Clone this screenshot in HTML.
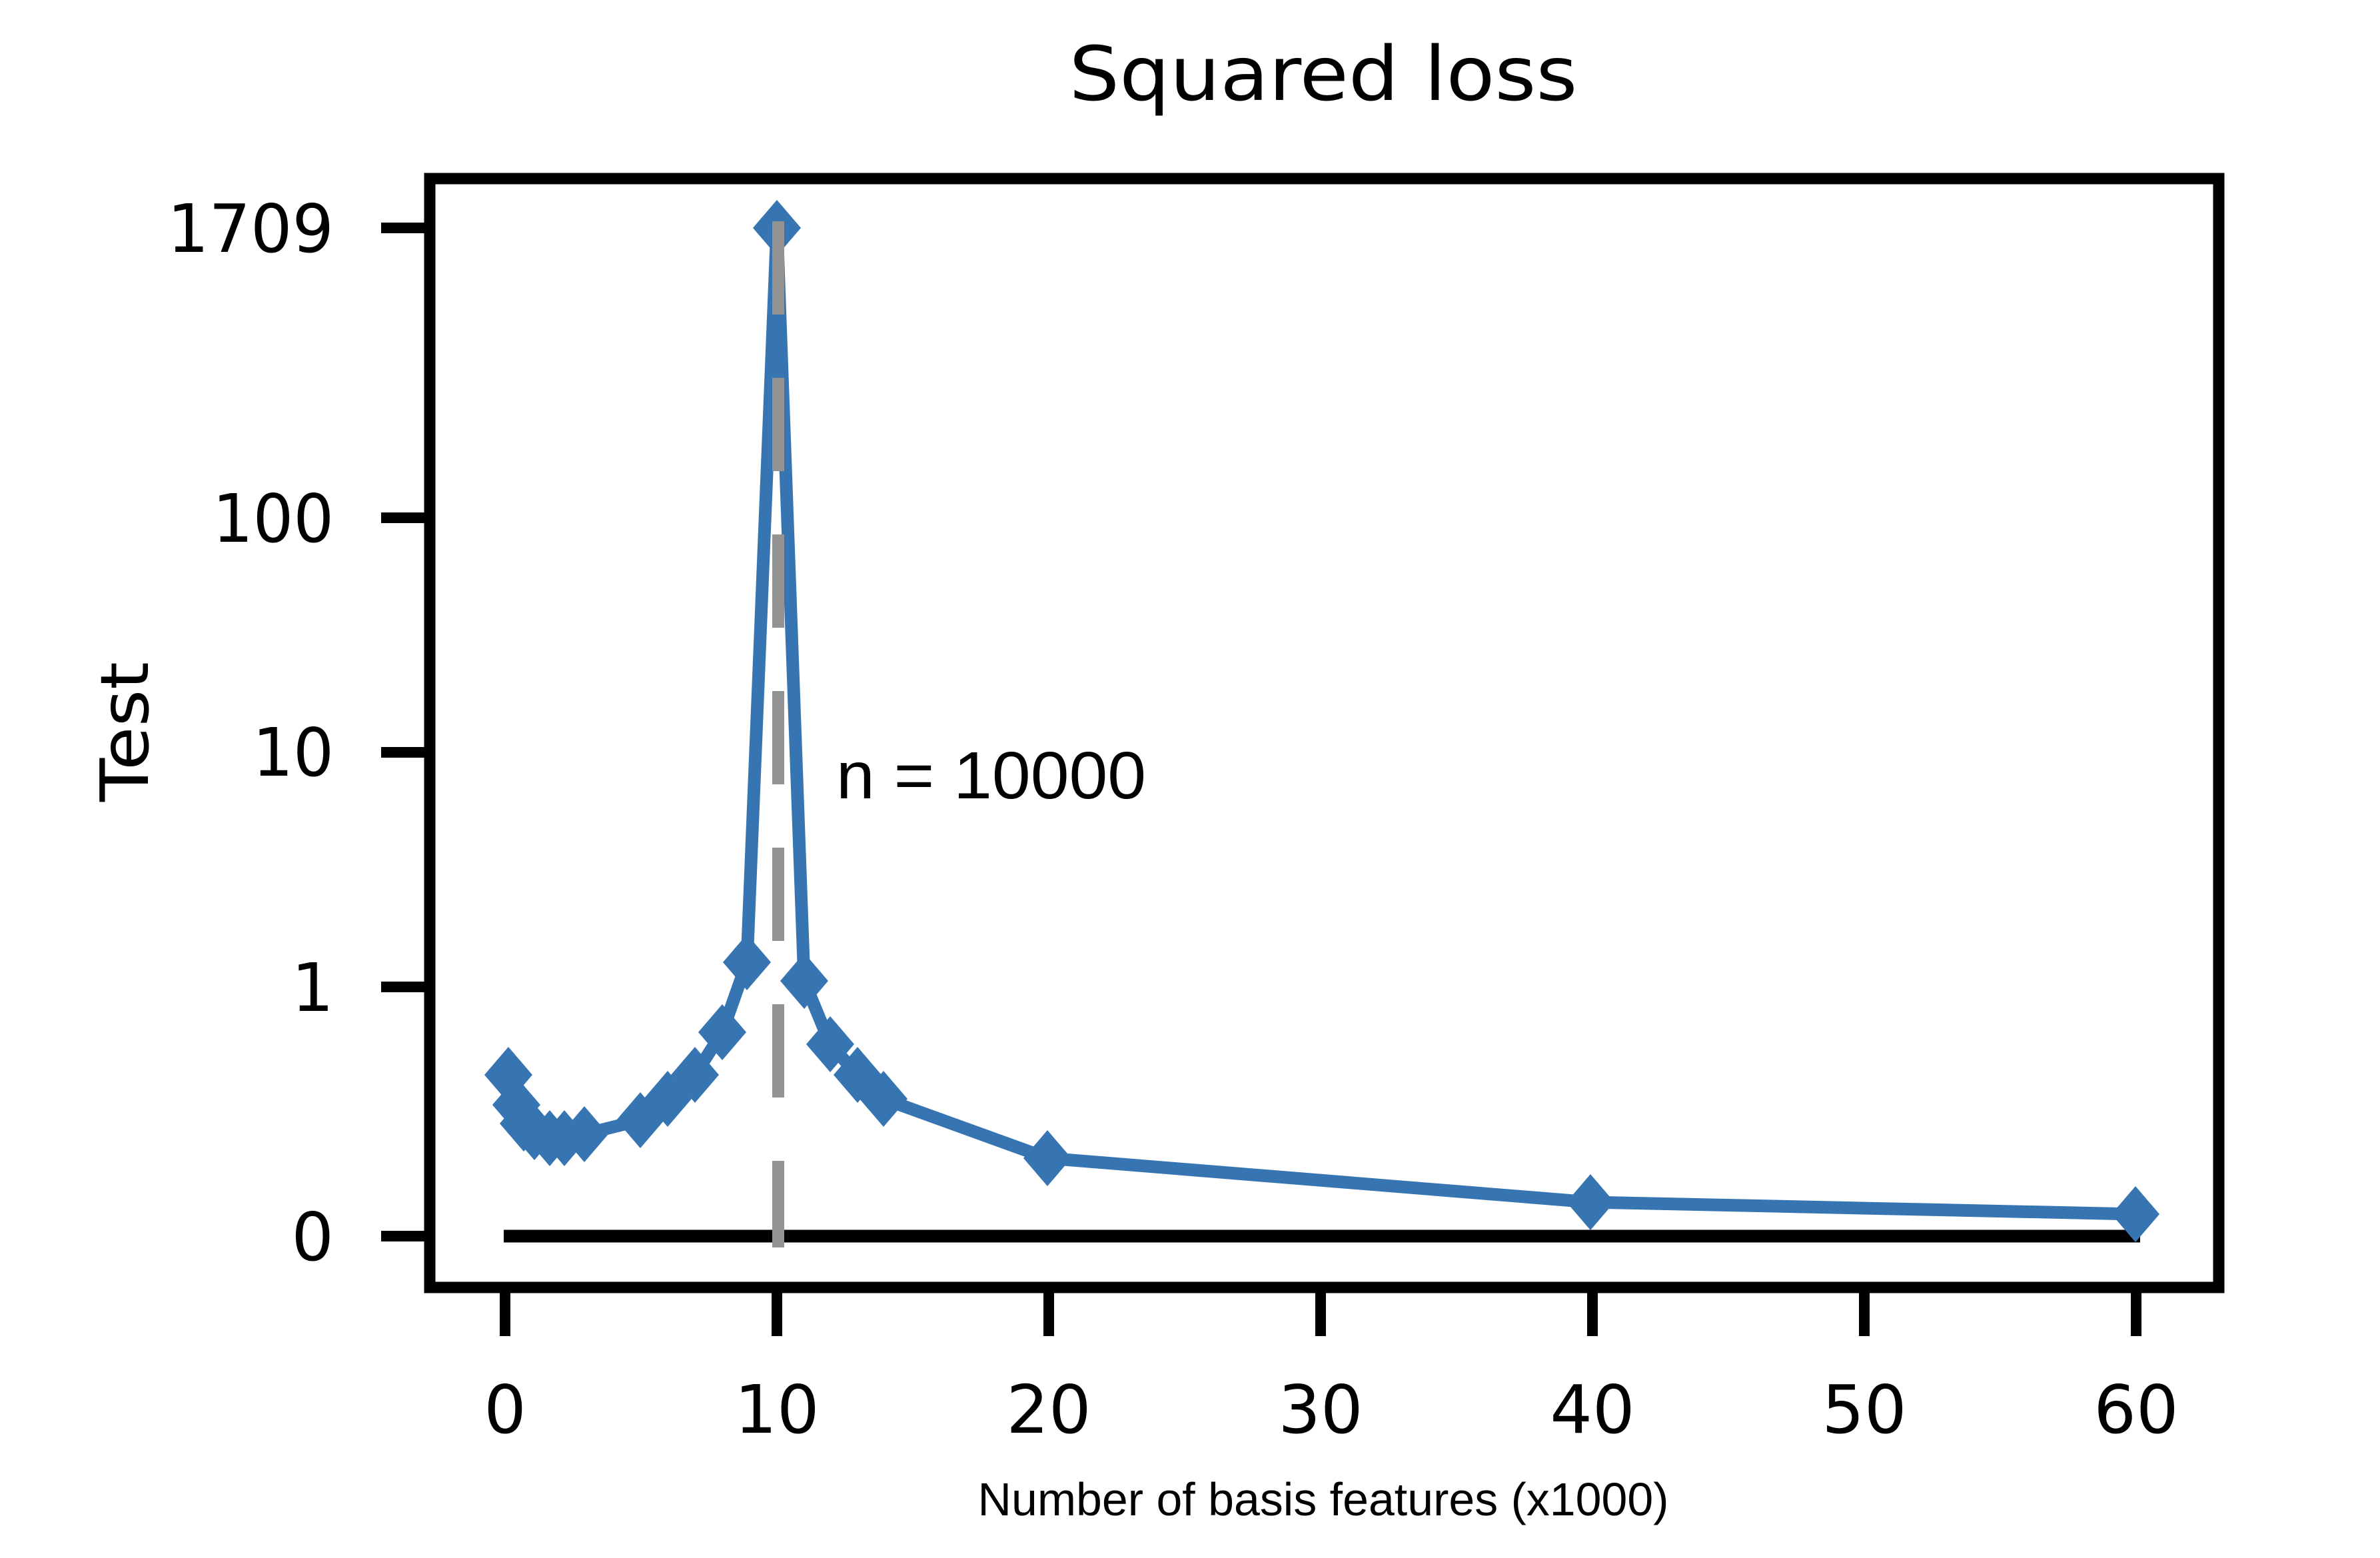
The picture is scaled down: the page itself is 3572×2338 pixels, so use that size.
<!DOCTYPE html>
<html><head><style>body{margin:0;background:#fff}svg{display:block}</style></head>
<body>
<svg width="3572" height="2338" viewBox="0 0 3572 2338" xmlns="http://www.w3.org/2000/svg">
<rect width="3572" height="2338" fill="#fff"/>
<g font-family="DejaVu Sans, sans-serif" fill="#000">
<text x="1986" y="150" font-size="112" text-anchor="middle" textLength="763" lengthAdjust="spacingAndGlyphs">Squared loss</text>
<g font-size="100" text-anchor="end">
<text x="501" y="378" textLength="250" lengthAdjust="spacingAndGlyphs">1709</text>
<text x="501" y="813" textLength="182" lengthAdjust="spacingAndGlyphs">100</text>
<text x="501" y="1164" textLength="122" lengthAdjust="spacingAndGlyphs">10</text>
<text x="501" y="1517">1</text>
<text x="501" y="1891">0</text>
</g>
<g font-size="100" text-anchor="middle">
<text x="758" y="2150">0</text>
<text x="1166" y="2150">10</text>
<text x="1574" y="2150">20</text>
<text x="1982" y="2150">30</text>
<text x="2390" y="2150">40</text>
<text x="2798" y="2150">50</text>
<text x="3206" y="2150">60</text>
</g>
<text transform="translate(222,1098) rotate(-90)" font-size="100" text-anchor="middle" textLength="210" lengthAdjust="spacingAndGlyphs">Test</text>
</g>
<text x="1255" y="1198" font-family="Liberation Sans, sans-serif" font-size="100" textLength="465" lengthAdjust="spacingAndGlyphs">n = 10000</text>
<text x="1986" y="2274" font-family="Liberation Sans, sans-serif" font-size="70" text-anchor="middle" textLength="1037" lengthAdjust="spacingAndGlyphs">Number of basis features (x1000)</text>

<rect x="645" y="268" width="2685" height="1664" fill="none" stroke="#000" stroke-width="17"/>
<g stroke="#000" stroke-width="16">
<line x1="572" y1="342" x2="645" y2="342"/>
<line x1="572" y1="777" x2="645" y2="777"/>
<line x1="572" y1="1129" x2="645" y2="1129"/>
<line x1="572" y1="1481" x2="645" y2="1481"/>
<line x1="572" y1="1855" x2="645" y2="1855"/>
<line x1="758" y1="1932" x2="758" y2="2005"/>
<line x1="1166" y1="1932" x2="1166" y2="2005"/>
<line x1="1574" y1="1932" x2="1574" y2="2005"/>
<line x1="1982" y1="1932" x2="1982" y2="2005"/>
<line x1="2390" y1="1932" x2="2390" y2="2005"/>
<line x1="2798" y1="1932" x2="2798" y2="2005"/>
<line x1="3206" y1="1932" x2="3206" y2="2005"/>
<line x1="756" y1="1855" x2="3212" y2="1855" stroke-width="19"/>
</g>

<g fill="#3775b2" stroke="#3775b2">
<polyline fill="none" stroke-width="19" stroke-linejoin="round" points="763,1613 775,1658 786,1686 802,1699 825,1708 847,1708 877,1702 961,1681 1002,1649 1043,1613 1084,1549 1121,1444 1166,342 1207,1472 1246,1567 1287,1613 1326,1649 1572,1738 2387,1804 3205,1822"/>
<g stroke="none">
<path d="M0,-42 L36,0 L0,42 L-36,0Z" transform="translate(763,1613)"/>
<path d="M0,-42 L36,0 L0,42 L-36,0Z" transform="translate(775,1658)"/>
<path d="M0,-42 L36,0 L0,42 L-36,0Z" transform="translate(786,1686)"/>
<path d="M0,-42 L36,0 L0,42 L-36,0Z" transform="translate(802,1699)"/>
<path d="M0,-42 L36,0 L0,42 L-36,0Z" transform="translate(825,1708)"/>
<path d="M0,-42 L36,0 L0,42 L-36,0Z" transform="translate(847,1708)"/>
<path d="M0,-42 L36,0 L0,42 L-36,0Z" transform="translate(877,1702)"/>
<path d="M0,-42 L36,0 L0,42 L-36,0Z" transform="translate(961,1681)"/>
<path d="M0,-42 L36,0 L0,42 L-36,0Z" transform="translate(1002,1649)"/>
<path d="M0,-42 L36,0 L0,42 L-36,0Z" transform="translate(1043,1613)"/>
<path d="M0,-42 L36,0 L0,42 L-36,0Z" transform="translate(1084,1549)"/>
<path d="M0,-42 L36,0 L0,42 L-36,0Z" transform="translate(1121,1444)"/>
<path d="M0,-42 L36,0 L0,42 L-36,0Z" transform="translate(1166,342)"/>
<path d="M0,-42 L36,0 L0,42 L-36,0Z" transform="translate(1207,1472)"/>
<path d="M0,-42 L36,0 L0,42 L-36,0Z" transform="translate(1246,1567)"/>
<path d="M0,-42 L36,0 L0,42 L-36,0Z" transform="translate(1287,1613)"/>
<path d="M0,-42 L36,0 L0,42 L-36,0Z" transform="translate(1326,1649)"/>
<path d="M0,-42 L36,0 L0,42 L-36,0Z" transform="translate(1572,1738)"/>
<path d="M0,-42 L36,0 L0,42 L-36,0Z" transform="translate(2387,1804)"/>
<path d="M0,-42 L36,0 L0,42 L-36,0Z" transform="translate(3205,1822)"/>
</g>
</g>
<line x1="1168" y1="332" x2="1168" y2="1872" stroke="#939393" stroke-width="18" stroke-dasharray="140,95"/>
</svg>
</body></html>
